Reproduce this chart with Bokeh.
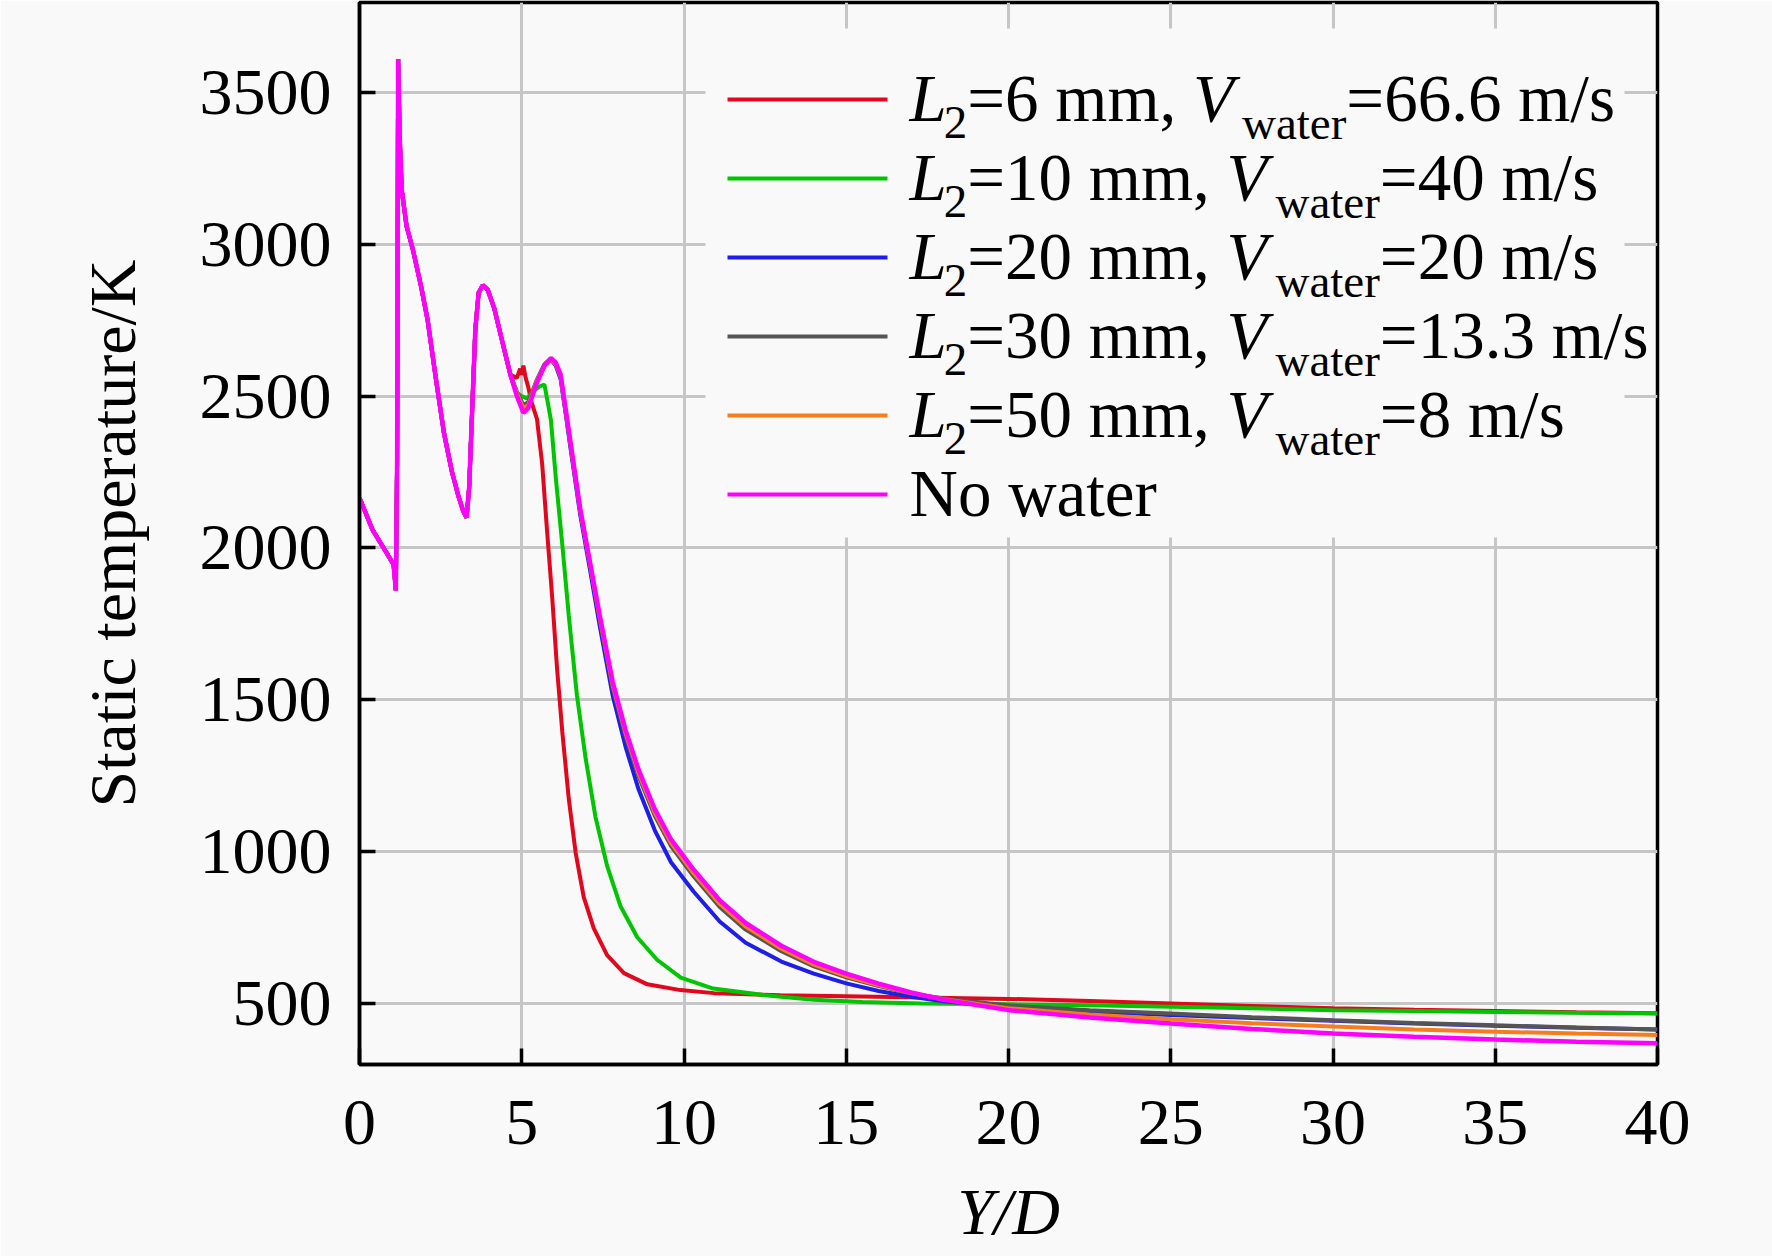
from bokeh.plotting import figure
from bokeh.models import FixedTicker, ColumnDataSource, Range1d
from bokeh.core.properties import value
from bokeh.embed import file_html
from bokeh.resources import INLINE

# ---------------- data ----------------
x_ticks = [0, 5, 10, 15, 20, 25, 30, 35, 40]
y_ticks = [500, 1000, 1500, 2000, 2500, 3000, 3500]

# common upstream profile (all cases coincide here)
common_x = [0.0, 0.4, 0.8, 1.05, 1.12, 1.16, 1.19, 1.24, 1.3, 1.45, 1.65, 1.9, 2.1,
            2.35, 2.6, 2.85, 3.05, 3.2, 3.3, 3.38, 3.47, 3.57, 3.67, 3.8, 3.95,
            4.15, 4.4, 4.65]
common_T = [2165, 2060, 1990, 1945, 1860, 2300, 3610, 3350, 3180, 3060, 2980, 2860, 2750,
            2560, 2380, 2250, 2170, 2120, 2100, 2200, 2450, 2720, 2840, 2865, 2850,
            2790, 2680, 2570]

l6_x = [4.85, 4.95, 5.0, 5.05, 5.12, 5.2, 5.3, 5.47, 5.63, 5.78, 5.94, 6.09, 6.25, 6.45,
        6.66, 6.91, 7.22, 7.63, 8.15, 8.87, 9.89, 10.92, 12.97, 15.0, 17.3, 20.0, 22.5,
        25.0, 27.5, 30.0, 32.5, 35.0, 37.5, 40.0]
l6_T = [2560, 2590, 2570, 2600, 2560, 2530, 2480, 2424, 2276, 2056, 1835, 1600, 1394, 1173,
        997, 850, 747, 659, 600, 563, 544, 534, 527, 524, 520, 515, 508,
        500, 492, 484, 479, 475, 471, 468]

l10_x = [4.85, 5.0, 5.15, 5.35, 5.55, 5.7, 5.8, 5.9, 6.05, 6.25, 6.45, 6.7, 6.97, 7.27,
         7.63, 8.04, 8.56, 9.17, 9.9, 10.9, 12.5, 14.0, 15.5, 17.3, 20.0, 22.5, 25.0,
         27.5, 30.0, 32.5, 35.0, 37.5, 40.0]
l10_T = [2510, 2500, 2492, 2515, 2532, 2538, 2480, 2420, 2230, 2010, 1776, 1515, 1306, 1115,
         953, 821, 718, 644, 585, 549, 527, 512, 505, 500, 497, 494, 489,
         484, 478, 475, 472, 469, 467]

tail_x = [4.85, 5.05, 5.2, 5.45, 5.7, 5.9, 6.05, 6.2, 6.35, 6.5, 6.8, 7.1, 7.4, 7.8, 8.2,
          8.6, 9.1, 9.6, 10.3, 11.1, 11.9, 13.0, 14.0, 15.0, 16.0, 17.0, 18.0, 20.0,
          22.5, 25.0, 27.5, 30.0, 32.5, 35.0, 37.5, 40.0]
l20_T = [2505, 2455, 2465, 2540, 2600, 2620, 2600, 2555, 2445, 2330, 2110, 1930, 1745, 1515, 1345,
         1205, 1070, 965, 868, 770, 700, 638, 598, 566, 541, 522, 507, 487,
         473, 462, 452, 443, 434, 427, 420, 414]
l30_T = [2515, 2470, 2480, 2550, 2605, 2625, 2605, 2560, 2450, 2340, 2120, 1945, 1765, 1540, 1380,
         1248, 1118, 1018, 918, 818, 743, 672, 622, 586, 557, 533, 516, 493,
         478, 467, 455, 445, 436, 428, 421, 414]
l50_T = [2510, 2460, 2470, 2545, 2600, 2620, 2605, 2565, 2455, 2345, 2125, 1950, 1772, 1550, 1390,
         1258, 1128, 1028, 928, 828, 753, 680, 628, 590, 560, 534, 514, 484,
         464, 448, 435, 424, 414, 407, 401, 396]
nw_T = [2500, 2445, 2460, 2540, 2600, 2625, 2610, 2570, 2460, 2350, 2130, 1955, 1780, 1560, 1400,
        1270, 1140, 1040, 940, 840, 765, 690, 637, 598, 565, 536, 512, 478,
        454, 434, 416, 401, 390, 381, 374, 369]

L2_values = ["6", "10", "20", "30", "50"]
V_values = ["66.6", "40", "20", "13.3", "8"]
no_water_label = "No water"
colors = ["#e0081e", "#00c400", "#1e1ee6", "#555555", "#f57d1e", "#ff00ff"]

series = [
    (common_x + l6_x, common_T + l6_T),
    (common_x + l10_x, common_T + l10_T),
    (common_x + tail_x, common_T + l20_T),
    (common_x + tail_x, common_T + l30_T),
    (common_x + tail_x, common_T + l50_T),
    (common_x + tail_x, common_T + nw_T),
]

# ---------------- layout ----------------
BG = "#f9f9f9"
FONT = "Liberation Serif"
FS = 67.0      # legend main font px
FSS = 47.0     # legend subscript font px
W, H = 1772, 1256
FL, FR, FT, FB = 359, 1657, 2, 1064   # frame in page pixels
X0, X1 = 0, 40
Y0, Y1 = 299, 3796


def px2x(px):
    return X0 + (px - FL) / (FR - FL) * (X1 - X0)


def py2y(py):
    return Y1 - (py - FT) / (FB - FT) * (Y1 - Y0)


p = figure(width=W, height=H, output_backend="svg", toolbar_location=None,
           x_range=Range1d(X0, X1), y_range=Range1d(Y0, Y1),
           min_border_left=FL, min_border_right=W - FR,
           min_border_top=FT, min_border_bottom=H - FB,
           background_fill_color=BG, border_fill_color=BG)
p.outline_line_color = "black"
p.outline_line_width = 3.5

p.xaxis.ticker = FixedTicker(ticks=x_ticks)
p.yaxis.ticker = FixedTicker(ticks=y_ticks)
for ax in (p.xaxis[0], p.yaxis[0]):
    ax.axis_line_width = 3.5
    ax.axis_line_color = "black"
    ax.major_tick_in = 16
    ax.major_tick_out = 0
    ax.major_tick_line_width = 3.5
    ax.major_tick_line_color = "black"
    ax.minor_tick_line_color = None
    ax.major_label_text_font = FONT
    ax.major_label_text_font_size = "66px"
    ax.major_label_text_color = "black"
    ax.axis_label_text_font = FONT
    ax.axis_label_text_font_size = "66px"
    ax.axis_label_text_color = "black"
p.xaxis.axis_label = "Y/D"
p.xaxis.axis_label_text_font_style = "italic"
p.xaxis.major_label_standoff = 36
p.xaxis.axis_label_standoff = 28
p.yaxis.axis_label = "Static temperature/K"
p.yaxis.axis_label_text_font_style = "normal"
p.yaxis.major_label_standoff = 28
p.yaxis.axis_label_standoff = 48
p.yaxis.major_label_text_baseline = "alphabetic"

p.grid.grid_line_color = "#c6c6c6"
p.grid.grid_line_width = 3

# legend background (hides grid behind the legend)
p.quad(left=[px2x(705)], right=[px2x(1624)], top=[py2y(28)], bottom=[py2y(537)],
       fill_color=BG, line_color=None)

# data lines
for (xs, ts), c in zip(series, colors):
    lw = 4.5 if c == "#ff00ff" else 4
    p.line(xs, ts, line_color=c, line_width=lw)

# ---------------- legend ----------------
WID_R = {' ': 250, '=': 564, '.': 250, ',': 250, 'm': 778, 's': 389, '/': 278,
         'N': 722, 'o': 500, 'w': 722, 'a': 444, 't': 278, 'e': 444, 'r': 333}
for d in "0123456789":
    WID_R[d] = 500
WID_I = {'L': 556, 'V': 611}


def tw(s, size, italic=False):
    tab = WID_I if italic else WID_R
    return sum(tab.get(ch, 500) for ch in s) / 1000.0 * size


ROW0, ROWSTEP = 99, 79
LINE_X0, LINE_X1, TEXT_X = 727, 887, 909
ANCHOR = 0.38   # anchor shift (fraction of font size) between y and baseline

groups = {"main_r": dict(x=[], y=[], text=[]),
          "main_i": dict(x=[], y=[], text=[]),
          "sub_r": dict(x=[], y=[], text=[])}
seg = dict(x0=[], y0=[], x1=[], y1=[], color=[])

labels = []
for L2, V in zip(L2_values, V_values):
    labels.append([("L", "main_i"), ("2", "sub_r"), ("=" + L2 + " mm, ", "main_r"),
                   ("V", "main_i"), ("water", "sub_r"), ("=" + V + " m/s", "main_r")])
labels.append([(no_water_label, "main_r")])

for i, (pieces, c) in enumerate(zip(labels, colors)):
    ly = ROW0 + ROWSTEP * i
    seg["x0"].append(px2x(LINE_X0)); seg["x1"].append(px2x(LINE_X1))
    seg["y0"].append(py2y(ly)); seg["y1"].append(py2y(ly)); seg["color"].append(c)
    base = ly + 24
    cx = TEXT_X
    prev = None
    for txt, g in pieces:
        if g == "sub_r":
            cx += 8 if prev == "V" else -3
            groups[g]["x"].append(px2x(cx))
            groups[g]["y"].append(py2y(base + 17 - ANCHOR * FSS))
            cx += tw(txt, FSS)
        else:
            groups[g]["x"].append(px2x(cx))
            groups[g]["y"].append(py2y(base - ANCHOR * FS))
            cx += tw(txt, FS, italic=(g == "main_i"))
        groups[g]["text"].append(txt)
        prev = txt

p.segment(x0="x0", y0="y0", x1="x1", y1="y1", line_color="color", line_width=4,
          source=ColumnDataSource(seg))

for g, d in groups.items():
    size = "%dpx" % (FSS if g == "sub_r" else FS)
    style = "italic" if g == "main_i" else "normal"
    p.text(x="x", y="y", text="text", source=ColumnDataSource(d),
           text_font=value(FONT), text_font_size=value(size), text_font_style=style,
           text_color="black", text_baseline="alphabetic", text_align="left")

open("out.html", "w").write(file_html(p, INLINE))
